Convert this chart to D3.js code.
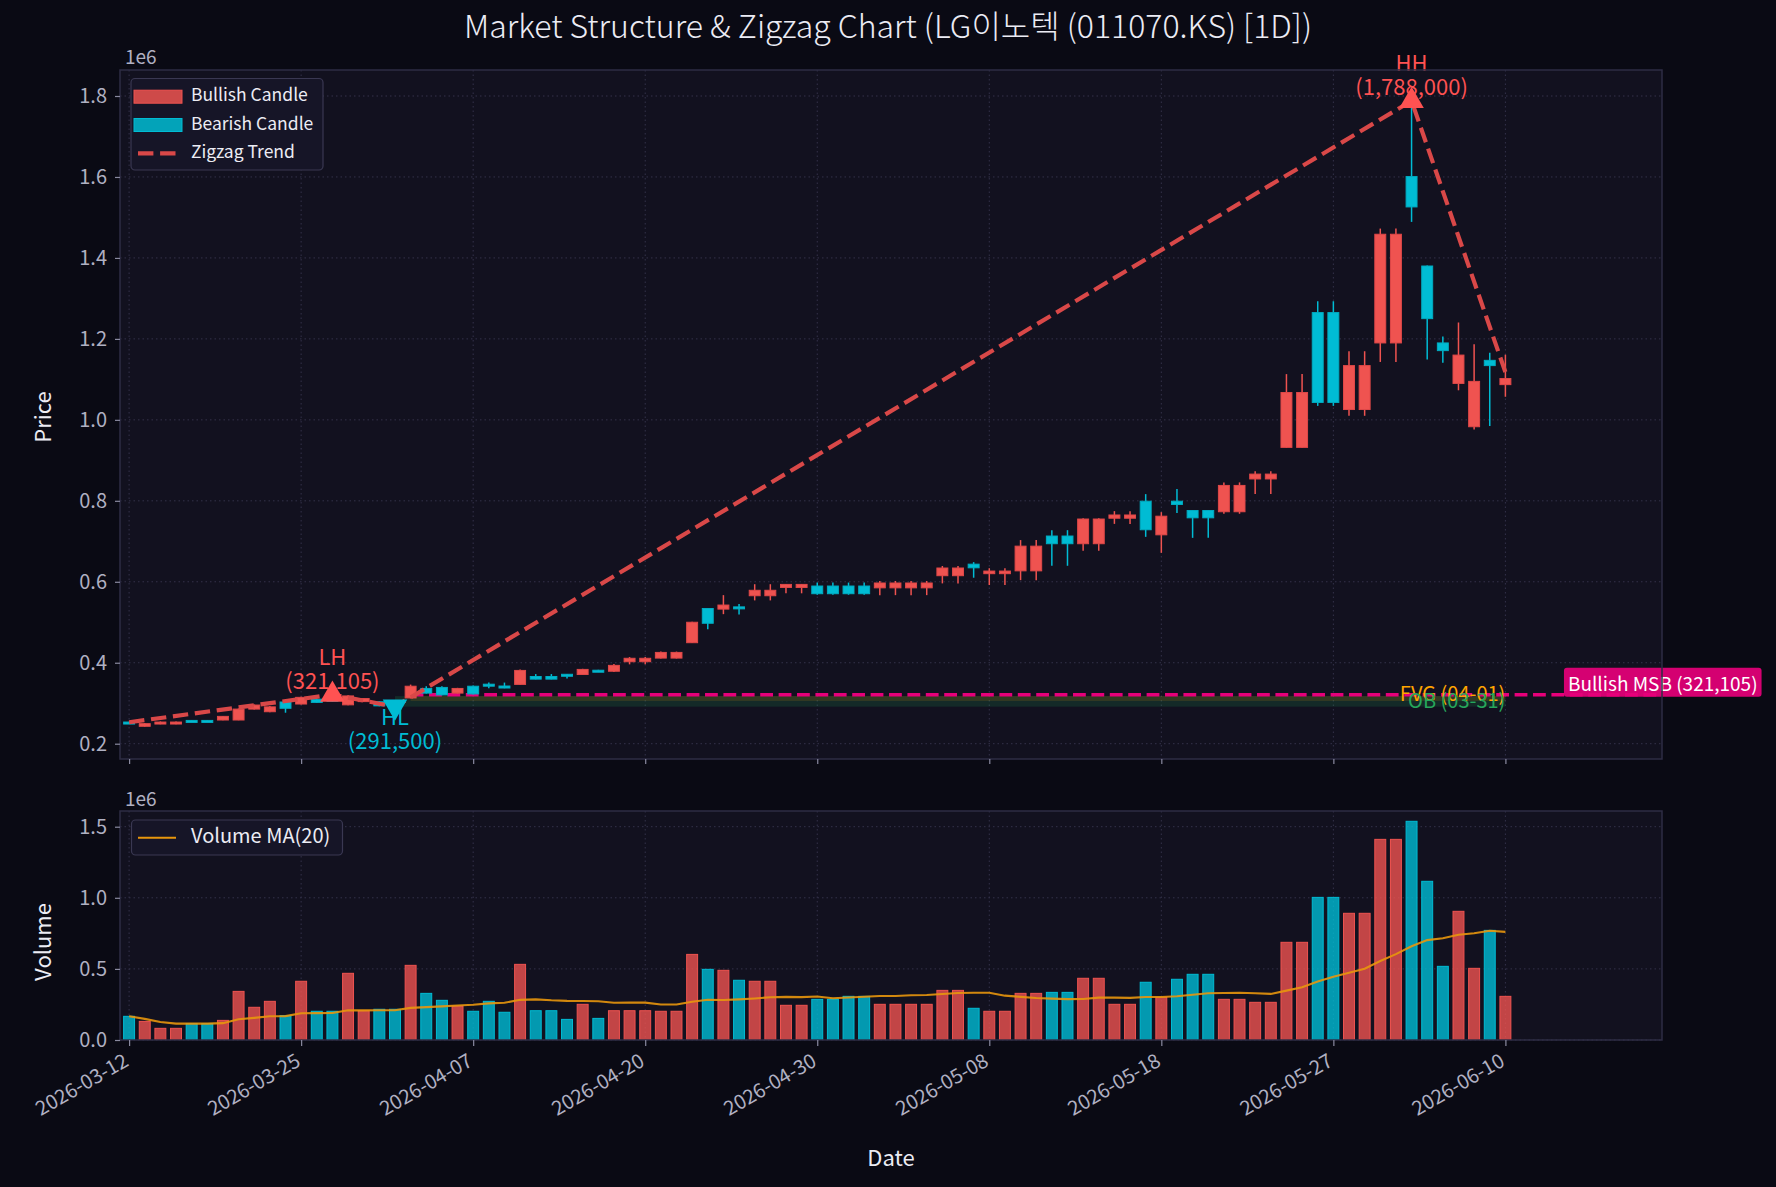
<!DOCTYPE html>
<html><head><meta charset="utf-8">
<script src="https://cdn.jsdelivr.net/npm/d3@7"></script>
<style>
html,body{margin:0;padding:0;background:#0a0a14;}
text{font-family:'Noto Sans CJK KR','Noto Sans',sans-serif;}
</style></head>
<body><svg id="c" width="1776" height="1187"></svg>
<script>
// ---------------- data ----------------
const opens = [253500,243000,249000,249000,257500,257500,258500,258500,285500,279000,
 303000,298000,310000,316000,296000,304000,303500,300000,313000,336500,
 339000,325000,342000,347000,342500,346500,366000,366000,371500,371000,
 381500,379000,402500,402500,411500,411500,449500,534000,532500,538000,
 565500,565500,586000,586000,589500,589500,589500,589500,585000,585000,
 585000,585000,615000,615000,643500,620000,620000,627000,627000,713000,
 713000,694000,694000,757000,757000,799000,716000,799000,776000,776000,
 773000,773000,854000,854000,932000,932000,1265000,1265000,1025500,1025500,
 1190000,1190000,1601000,1380000,1190000,1090000,983000,1147000,1087000];
const closes = [252500,249500,253500,253500,256000,256000,267500,285500,295500,291000,
 287500,314500,302000,305000,318000,311500,293500,294000,342000,325000,
 320500,336500,323000,343000,340000,381000,359500,359500,367500,383500,
 378000,393500,411000,411000,425500,425500,500000,497500,542500,536000,
 579000,579000,593500,593500,570500,570500,570500,570500,597000,597000,
 597000,597000,634000,634000,634500,626500,626500,688000,688000,694000,
 694000,755000,755000,765000,765000,728500,762000,791000,758000,758000,
 838000,838000,866000,866000,1067500,1067500,1043000,1043000,1134000,1134000,
 1458500,1458500,1526000,1250000,1171000,1160000,1095000,1134000,1102000];
const highs = [254500,251000,255000,255000,258000,258000,268500,287000,297000,293000,
 304000,316000,311500,321105,319500,312500,304500,301000,346000,342000,
 342000,338000,344000,351000,351000,383000,372000,372000,372000,385000,
 382500,397000,414000,414000,427500,427500,501500,535000,567000,545000,
 594000,594000,594500,594500,598000,598000,598000,598000,602000,602000,
 602000,602000,639000,639000,648500,633500,633500,703000,703000,727500,
 727500,757000,757000,774500,774500,816500,772000,829000,777000,777000,
 845500,845500,873000,873000,1113000,1113000,1293000,1293000,1169500,1169500,
 1472500,1472500,1788000,1381000,1206000,1240500,1187000,1166000,1161000];
const lows = [251500,242000,248000,248000,255500,255500,258000,258000,284500,277500,
 276500,297000,300500,304000,295000,303000,292500,291500,312000,324000,
 319500,324000,321500,337000,337000,345500,359000,359000,361000,370000,
 377000,377000,396000,396000,410500,410500,448500,483000,520000,519000,
 554000,554000,571500,571500,568000,568000,568000,568000,567000,567000,
 567000,567000,596000,596000,610000,592000,592000,604000,604000,639500,
 639500,676500,676500,743000,743000,711000,671500,770000,708500,708500,
 768000,768000,817000,817000,931000,931000,1034500,1034500,1010000,1010000,
 1143000,1143000,1489000,1149000,1141000,1073000,976000,985000,1057000];
const volumes = [166500,131000,82000,82000,115000,115000,138000,342000,230000,272000,
 171000,413000,202000,202000,469000,206000,216000,216000,525000,328000,
 279000,239000,202000,272000,195000,532000,206000,206000,145000,251000,
 152000,206000,206000,206000,202000,202000,602000,497000,490000,420000,
 413000,413000,244000,244000,286000,286000,307000,307000,251000,251000,
 251000,251000,349000,349000,223000,202000,202000,328000,328000,335000,
 335000,434000,434000,251000,251000,406000,300000,427000,462000,462000,
 286000,286000,265000,265000,687000,687000,1003000,1003000,891000,891000,
 1411000,1411000,1538000,1116000,518000,905000,504000,771000,307000];

const tickIdx = [0,11,22,33,44,55,66,77,88];
const tickLabels = ["2026-03-12","2026-03-25","2026-04-07","2026-04-20","2026-04-30","2026-05-08","2026-05-18","2026-05-27","2026-06-10"];
const priceTicks = [200000,400000,600000,800000,1000000,1200000,1400000,1600000,1800000];
const volTicks = [0,500000,1000000,1500000];

const zigzagIdx = [0,13,17,82,88];
const zigzagVal = [253000,321105,291500,1788000,1118000];
const pivotIdx = [13,17,82];
const pivotVal = [321105,291500,1788000];
const pivotType = ["LH","HL","HH"];

const msbLevel = 321105, msbStart = 18, msbLabelIdx = 92;
const obZone = [17, 88, 291500, 317500];
const fvgZone = [18, 88, 305500, 318000];
const title = "Market Structure & Zigzag Chart (LG이노텍 (011070.KS) [1D])";

// ---------------- layout ----------------
const RED = "#ef5350", CYAN = "#00bcd4", PINK = "#e6007a", ORANGE = "#e8960c";
const TXT = "#ececf4", TICK = "#b0b0c2";
const P = {l:120, r:1662, t:70, b:759};
const V = {t:811, b:1040};
const svg = d3.select("#c");
svg.append("rect").attr("width",1776).attr("height",1187).attr("fill","#0a0a14");

const x = d3.scaleLinear().domain([0,88]).range([129.1,1505.4]);
const y = d3.scaleLinear().domain([200000,1800000]).range([743.7,96]);
const yv = d3.scaleLinear().domain([0,1500000]).range([1040,826.7]);
const step = x(1)-x(0), bw = step*0.7;
const N = opens.length;

function panel(top,bottom){
  svg.append("rect").attr("x",P.l).attr("y",top).attr("width",P.r-P.l).attr("height",bottom-top).attr("fill","#12111f");
}
panel(P.t,P.b); panel(V.t,V.b);

const defs = svg.append("defs");
defs.append("clipPath").attr("id","cp").append("rect").attr("x",P.l).attr("y",P.t).attr("width",P.r-P.l).attr("height",P.b-P.t);
defs.append("clipPath").attr("id","cv").append("rect").attr("x",P.l).attr("y",V.t).attr("width",P.r-P.l).attr("height",V.b-V.t);

// grids
function grid(top,bottom,ys,yscale){
  const g = svg.append("g");
  g.selectAll(".gx").data(tickIdx).join("line").attr("x1",d=>x(d)).attr("x2",d=>x(d)).attr("y1",top).attr("y2",bottom)
   .attr("stroke","#34324a").attr("stroke-width",1).attr("stroke-dasharray","1.5,3");
  g.selectAll(".gy").data(ys).join("line").attr("x1",P.l).attr("x2",P.r).attr("y1",d=>yscale(d)).attr("y2",d=>yscale(d))
   .attr("stroke","#34324a").attr("stroke-width",1).attr("stroke-dasharray","1.5,3");
}
grid(P.t,P.b,priceTicks,y);
grid(V.t,V.b,volTicks,yv);

const gp = svg.append("g").attr("clip-path","url(#cp)");
// zones
gp.append("rect").attr("x",x(obZone[0])).attr("width",x(obZone[1])-x(obZone[0])).attr("y",y(obZone[3])).attr("height",y(obZone[2])-y(obZone[3]))
  .attr("fill","#1f8f4e").attr("opacity",0.2);
gp.append("rect").attr("x",x(fvgZone[0])).attr("width",x(fvgZone[1])-x(fvgZone[0])).attr("y",y(fvgZone[3])).attr("height",y(fvgZone[2])-y(fvgZone[3]))
  .attr("fill","#ffa500").attr("opacity",0.13);
// MSB line
gp.append("line").attr("x1",x(msbStart)).attr("x2",P.r).attr("y1",y(msbLevel)).attr("y2",y(msbLevel))
  .attr("stroke",PINK).attr("stroke-width",3.4).attr("stroke-dasharray","12.8,5.6");

// candles
const idx = d3.range(N);
const cg = gp.append("g");
cg.selectAll(".w").data(idx).join("line")
  .attr("x1",i=>x(i)).attr("x2",i=>x(i)).attr("y1",i=>y(highs[i])).attr("y2",i=>y(lows[i]))
  .attr("stroke",i=>closes[i]>=opens[i]?RED:CYAN).attr("stroke-width",1.5);
cg.selectAll(".b").data(idx).join("rect")
  .attr("x",i=>x(i)-bw/2).attr("width",bw)
  .attr("y",i=>Math.min(y(opens[i]),y(closes[i])))
  .attr("height",i=>Math.max(2,Math.abs(y(opens[i])-y(closes[i]))))
  .attr("fill",i=>closes[i]>=opens[i]?RED:CYAN)
  .attr("stroke",i=>closes[i]>=opens[i]?"#e04848":"#00acc1").attr("stroke-width",1);

// zigzag
gp.append("path").datum(zigzagIdx.map((d,k)=>[d,zigzagVal[k]]))
  .attr("d",d3.line().x(d=>x(d[0])).y(d=>y(d[1])))
  .attr("fill","none").attr("stroke","#d94848").attr("stroke-width",4.2).attr("stroke-dasharray","15.4,6.7");

// zone labels
gp.append("text").attr("x",x(88)).attr("y",695.5).attr("text-anchor","end").attr("font-size",20).attr("fill","#ffa500").attr("dominant-baseline","middle").text("FVG (04-01)");
gp.append("text").attr("x",x(88)).attr("y",702.5).attr("text-anchor","end").attr("font-size",20).attr("fill","#26a65b").attr("dominant-baseline","middle").text("OB (03-31)");

// pivots
const tri = d3.symbol().type(d3.symbolTriangle).size(260);
pivotIdx.forEach((pi,k)=>{
  const up = pivotType[k][1]==="H";
  const col = up ? "#ff5252" : CYAN;
  svg.append("path").attr("d",tri()).attr("fill",col)
    .attr("transform",`translate(${x(pi)},${y(pivotVal[k])}) rotate(${up?0:180})`);
  const lines = [pivotType[k], "("+d3.format(",")(pivotVal[k])+")"];
  const base = up ? y(pivotVal[k]) - 35.5 : y(pivotVal[k]) + 12;
  lines.forEach((t,j)=>{
    svg.append("text").attr("x",x(pi)).attr("y",base + j*24).attr("text-anchor","middle")
      .attr("dominant-baseline","middle").attr("font-size",22).attr("fill",col).text(t);
  });
});

// MSB label
const mg = svg.append("g");
const mrect = mg.append("rect");
const mt = mg.append("text").attr("x",x(msbLabelIdx)).attr("y",y(msbLevel)-9).attr("font-size",19).attr("fill","#ffffff")
  .attr("dominant-baseline","middle").text("Bullish MSB ("+d3.format(",")(msbLevel)+")");
const bb = mt.node().getBBox();
mrect.attr("x",bb.x-4).attr("y",bb.y-1).attr("width",bb.width+8).attr("height",bb.height+2).attr("rx",3)
  .attr("fill",PINK).attr("opacity",0.92);

// volume
const gv = svg.append("g").attr("clip-path","url(#cv)");
gv.selectAll(".v").data(idx).join("rect")
  .attr("x",i=>x(i)-bw/2).attr("width",bw).attr("y",i=>yv(volumes[i])).attr("height",i=>yv(0)-yv(volumes[i]))
  .attr("fill",i=>closes[i]>=opens[i]?RED:CYAN).attr("fill-opacity",0.8)
  .attr("stroke",i=>closes[i]>=opens[i]?RED:CYAN).attr("stroke-width",1);
const ma = idx.map(i=>{const s=Math.max(0,i-19); return d3.mean(volumes.slice(s,i+1));});
gv.append("path").datum(idx).attr("d",d3.line().x(i=>x(i)).y(i=>yv(ma[i])))
  .attr("fill","none").attr("stroke",ORANGE).attr("stroke-width",2.1).attr("opacity",0.9);

// frames
[[P.t,P.b],[V.t,V.b]].forEach(([t,b])=>{
  svg.append("rect").attr("x",P.l).attr("y",t).attr("width",P.r-P.l).attr("height",b-t).attr("fill","none").attr("stroke","#2e2c44").attr("stroke-width",1.5);
});

// axes
function styleAxis(g,fs){
  g.select(".domain").remove();
  g.selectAll(".tick line").attr("stroke","#8a8aa0").attr("stroke-width",1.2);
  g.selectAll(".tick text").attr("fill",TICK).attr("font-size",fs).attr("font-family","'Noto Sans CJK KR','Noto Sans',sans-serif");
}
const ayp = svg.append("g").attr("transform",`translate(${P.l},0)`).call(d3.axisLeft(y).tickValues(priceTicks).tickFormat(d=>(d/1e6).toFixed(1)).tickSize(5).tickPadding(8));
styleAxis(ayp,20);
const ayv = svg.append("g").attr("transform",`translate(${P.l},0)`).call(d3.axisLeft(yv).tickValues(volTicks).tickFormat(d=>(d/1e6).toFixed(1)).tickSize(5).tickPadding(8));
styleAxis(ayv,20);
const axp = svg.append("g").attr("transform",`translate(0,${P.b})`).call(d3.axisBottom(x).tickValues(tickIdx).tickFormat("").tickSize(5));
styleAxis(axp,20);
const axv = svg.append("g").attr("transform",`translate(0,${V.b})`).call(d3.axisBottom(x).tickValues(tickIdx).tickFormat((d,i)=>tickLabels[i]).tickSize(6));
styleAxis(axv,20);
axv.selectAll(".tick text").attr("text-anchor","end").attr("dy",null).attr("y",null)
  .attr("dominant-baseline","hanging").attr("transform","translate(-9,9) rotate(-30)");

// offset texts
svg.append("text").attr("x",125).attr("y",64).attr("font-size",19).attr("fill",TICK).text("1e6");
svg.append("text").attr("x",125).attr("y",806).attr("font-size",19).attr("fill",TICK).text("1e6");

// axis labels
svg.append("text").attr("transform","translate(45,417) rotate(-90)").attr("text-anchor","middle").attr("dominant-baseline","middle").attr("font-size",22).attr("fill",TXT).text("Price");
svg.append("text").attr("transform","translate(45,942) rotate(-90)").attr("text-anchor","middle").attr("dominant-baseline","middle").attr("font-size",22).attr("fill",TXT).text("Volume");
svg.append("text").attr("x",891).attr("y",1160).attr("text-anchor","middle").attr("dominant-baseline","middle").attr("font-size",22).attr("fill",TXT).text("Date");

// title
svg.append("text").attr("x",888).attr("y",29).attr("text-anchor","middle").attr("dominant-baseline","middle").attr("font-size",32).attr("font-weight",300).attr("fill",TXT).text(title);

// legends
const lg = svg.append("g");
lg.append("rect").attr("x",131).attr("y",78.5).attr("width",192).attr("height",91.5).attr("rx",4).attr("fill","#161527").attr("stroke","#3a3852").attr("stroke-width",1.2);
const legItems = [["Bullish Candle","patch",RED],["Bearish Candle","patch",CYAN],["Zigzag Trend","dash","#d94848"]];
legItems.forEach((it,k)=>{
  const cy = 96.7 + k*28.3;
  if(it[1]==="patch") lg.append("rect").attr("x",134).attr("y",cy-6.5).attr("width",48).attr("height",13).attr("fill",it[2]).attr("fill-opacity",0.85).attr("stroke",it[2]);
  else lg.append("line").attr("x1",138).attr("x2",176).attr("y1",cy).attr("y2",cy).attr("stroke",it[2]).attr("stroke-width",4.2).attr("stroke-dasharray","15.4,6.7");
  lg.append("text").attr("x",191).attr("y",cy).attr("dominant-baseline","middle").attr("font-size",17.5).attr("fill",TXT).text(it[0]);
});
lg.append("rect").attr("x",131.5).attr("y",820).attr("width",211).attr("height",35).attr("rx",4).attr("fill","#161527").attr("stroke","#3a3852").attr("stroke-width",1.2);
lg.append("line").attr("x1",138).attr("x2",176).attr("y1",837.7).attr("y2",837.7).attr("stroke",ORANGE).attr("stroke-width",2.1);
lg.append("text").attr("x",191).attr("y",837.7).attr("dominant-baseline","middle").attr("font-size",20).attr("fill",TXT).text("Volume MA(20)");
</script></body></html>
